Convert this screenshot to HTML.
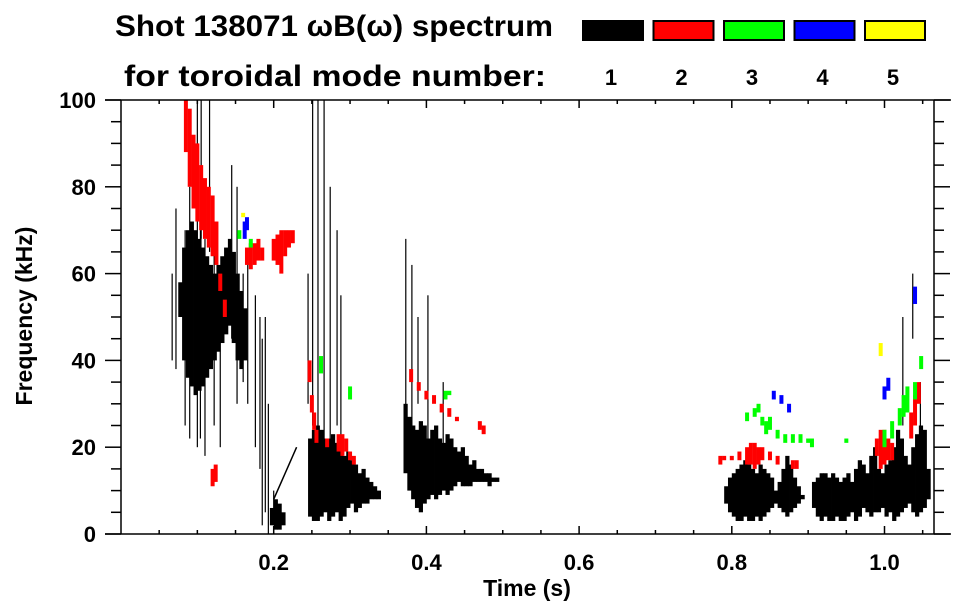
<!DOCTYPE html>
<html><head><meta charset="utf-8"><style>
html,body{margin:0;padding:0;background:#fff;}
svg{display:block;font-family:"Liberation Sans",Arial,sans-serif;font-weight:bold;}
</style></head><body>
<svg id="chart" width="963" height="615" viewBox="0 0 963 615" xmlns="http://www.w3.org/2000/svg">
<text x="334" y="36" font-size="30" text-anchor="middle" textLength="438" lengthAdjust="spacingAndGlyphs">Shot 138071 ωB(ω) spectrum</text>
<text x="335" y="86" font-size="30" text-anchor="middle" textLength="422" lengthAdjust="spacingAndGlyphs">for toroidal mode number:</text>
<g id="legend"></g>
<g id="marks"></g>
<g id="axes"></g>
<text x="527" y="596" font-size="23" text-anchor="middle">Time (s)</text>
<text transform="translate(32,316) rotate(-90)" font-size="23" text-anchor="middle">Frequency (kHz)</text>
</svg>
<script>
// ---- data ----
const modeColors = ['#000000','#ff0000','#00ff00','#0000ff','#ffff00'];
const modeLabels = ['1','2','3','4','5'];
const xTicks = [0.2,0.4,0.6,0.8,1.0];
const xTickLabels = ['0.2','0.4','0.6','0.8','1.0'];
const yTicks = [0,20,40,60,80,100];
const yTickLabels = ['0','20','40','60','80','100'];

// dense black (n=1) blobs: start time, step, high/low freq envelopes
const blob1Start = 0.075, blob1Hi = [58,66,70,72,70,68,66,64,62,60,62,64,66,68,65,60,56,52], blob1Lo = [50,40,36,34,32,33,34,36,38,40,42,44,46,48,44,40,38,40];
const blob2Start = 0.245, blob2Hi = [22,24,25,24,22,22,23,21,20,18,19,17,16,14,15,13,12,11,10], blob2Lo = [4,3,3,4,5,3,4,5,3,4,6,7,5,6,7,7,8,8,8];
const blob3Start = 0.370, blob3Hi = [30,27,25,24,26,25,22,24,25,22,21,23,22,20,19,20,18,16,17,15,15,14,14,13,13], blob3Lo = [14,10,8,6,5,7,8,9,8,9,10,9,10,11,12,11,11,11,12,12,12,12,11,12,12];
const blob4Start = 0.790, blob4Hi = [11,13,14,15,16,17,16,15,14,16,15,14,13,10,12,15,18,16,13,11,9], blob4Lo = [7,5,4,3,3,4,3,3,4,3,4,5,6,7,6,5,4,5,6,7,8];
const blob5Start = 0.905, blob5Hi = [12,13,14,14,13,14,13,12,13,14,12,15,17,16,14,18,20,15,14,16,17,20,24,22,18,16,20,23,25,24,15], blob5Lo = [6,4,3,4,3,3,4,3,3,4,5,3,4,6,5,4,5,5,6,4,5,3,4,5,6,7,5,4,5,6,8];
const blob6Start = 0.195, blob6Hi = [6,8,7,5], blob6Lo = [2,1,1,2];
const blobStep = 0.005;

// thin black streaks (time, low, high)
const lineT  = [0.067,0.072,0.084,0.090,0.100,0.104,0.110,0.116,0.122,0.130,0.145,0.152,0.160,0.166,0.176,0.182,0.185,0.189,0.193,0.245,0.251,0.258,0.266,0.274,0.283,0.288,0.373,0.381,0.389,0.402,0.422,1.024,1.037,1.047,0.200,0.105];
const lineLo = [40,38,25,22,20,22,18,65,25,20,45,30,35,30,20,15,2,5,0,30,25,20,20,20,25,15,25,20,30,20,20,25,45,20,3,68];
const lineHi = [60,75,70,80,100,70,68,100,65,60,85,80,60,65,55,50,45,50,30,60,100,100,100,80,70,55,68,62,50,55,35,50,60,35,10,100];

// diagonal streak near t=0.2
const diagT = [0.200,0.205,0.210,0.215,0.220,0.225,0.230];
const diagF = [8,10,12,14,16,18,20];

// colored (n>=2) patches: time, low, high, mode index
const patchT = [0.085,0.090,0.095,0.100,0.105,0.110,0.115,0.120,0.125,0.130,0.136,0.165,0.170,0.175,0.180,0.185,0.200,0.205,0.210,0.215,0.220,0.225,0.120,0.124,0.247,0.250,0.253,0.256,0.270,0.285,0.290,0.295,0.300,0.305,0.380,0.390,0.400,0.410,0.420,0.430,0.440,0.470,0.475,0.785,0.790,0.800,0.810,0.820,0.825,0.830,0.835,0.840,0.850,0.860,0.880,0.885,0.990,0.995,1.000,1.005,1.010,1.035,1.040,1.045,
  0.155,0.170,0.262,0.300,0.425,0.430,0.820,0.830,0.835,0.840,0.845,0.850,0.860,0.870,0.880,0.890,0.900,0.905,0.950,1.000,1.010,1.020,1.025,1.030,1.040,1.048,
  0.162,0.165,0.855,0.865,0.875,1.000,1.005,1.040,
  0.160,0.995];
const patchLo = [88,80,75,72,70,68,66,64,62,56,50,62,61,62,63,63,63,62,60,64,66,67,11,12,35,28,24,21,20,19,18,19,17,16,35,33,31,30,28,27,26,24,23,16,17,17,17,16,16,15,16,17,17,16,15,15,18,15,16,17,17,22,25,30,
  68,66,37,31,31,32,26,27,28,25,23,24,22,21,21,21,21,20,21,20,22,25,27,28,31,38,
  68,70,31,30,28,31,33,53,
  73,41];
const patchHi = [100,98,92,90,85,82,80,78,72,60,54,66,67,67,68,66,68,69,70,70,70,70,15,16,40,32,28,24,22,23,23,22,19,18,38,35,33,32,30,29,27,26,25,18,18,18,19,20,21,21,20,20,19,18,17,17,22,24,24,22,21,28,32,35,
  70,68,41,34,33,33,28,29,30,27,26,27,24,23,23,23,22,22,22,24,26,29,32,34,35,41,
  72,73,33,32,30,34,36,57,
  74,44];
const patchMode = [1,1,1,1,1,1,1,1,1,1,1,1,1,1,1,1,1,1,1,1,1,1,1,1,1,1,1,1,1,1,1,1,1,1,1,1,1,1,1,1,1,1,1,1,1,1,1,1,1,1,1,1,1,1,1,1,1,1,1,1,1,1,1,1,
  2,2,2,2,2,2,2,2,2,2,2,2,2,2,2,2,2,2,2,2,2,2,2,2,2,2,
  3,3,3,3,3,3,3,3,
  4,4];

// ---- axes functions ----
const X0=121, X1=934, Y0=534, Y1=100, TMAX=(934-121)/763.5;
const xs = t => X0 + t*763.5;
const ys = f => Y0 - f*(Y0-Y1)/100;
const NS='http://www.w3.org/2000/svg';
function mk(tag, parent){const e=document.createElementNS(NS,tag);parent.appendChild(e);return e;}
const marks=document.getElementById('marks'), axes=document.getElementById('axes'), legend=document.getElementById('legend');

function drawBlob(start, hi, lo, name){
  for(let i=0;i<hi.length;i++){
    const t=start+i*blobStep;
    const r=mk('rect',marks);
    
    
    r.setAttribute('x', xs(t)); r.setAttribute('width', xs(t+blobStep)-xs(t)+0.4);
    r.setAttribute('y', ys(hi[i])); r.setAttribute('height', ys(lo[i])-ys(hi[i]));
    r.setAttribute('fill', modeColors[0]);
  }
}
drawBlob(blob1Start,blob1Hi,blob1Lo,'mode1-blob-early');
drawBlob(blob2Start,blob2Hi,blob2Lo,'mode1-blob-025');
drawBlob(blob3Start,blob3Hi,blob3Lo,'mode1-blob-040');
drawBlob(blob4Start,blob4Hi,blob4Lo,'mode1-blob-085');
drawBlob(blob5Start,blob5Hi,blob5Lo,'mode1-blob-100');
drawBlob(blob6Start,blob6Hi,blob6Lo,'mode1-blob-020');

for(let i=0;i<lineT.length;i++){
  const r=mk('rect',marks);
  
  
  r.setAttribute('x', xs(lineT[i])-0.6); r.setAttribute('width', 1.2);
  r.setAttribute('y', ys(lineHi[i])); r.setAttribute('height', ys(lineLo[i])-ys(lineHi[i]));
  r.setAttribute('fill', '#000');
}
const dl=mk('polyline',marks);


dl.setAttribute('points', diagT.map((t,i)=>xs(t)+','+ys(diagF[i])).join(' '));
dl.setAttribute('fill','none'); dl.setAttribute('stroke','#000'); dl.setAttribute('stroke-width','1.5');

for(let i=0;i<patchT.length;i++){
  const r=mk('rect',marks);
  
  
  r.setAttribute('x', xs(patchT[i])-2); r.setAttribute('width', 4);
  r.setAttribute('y', ys(patchHi[i])); r.setAttribute('height', Math.max(1.5, ys(patchLo[i])-ys(patchHi[i])));
  r.setAttribute('fill', modeColors[patchMode[i]]);
}

// frame
function line(x1,y1,x2,y2,name){
  const l=mk('line',axes);
  
  
  l.setAttribute('x1',x1);l.setAttribute('y1',y1);l.setAttribute('x2',x2);l.setAttribute('y2',y2);
  l.setAttribute('stroke','#000');l.setAttribute('stroke-width','1.5');
}
line(105,Y0,951,Y0,'x-axis-line');
line(105,Y1,951,Y1,'top-axis-line');
line(X0,Y1,X0,Y0,'y-axis-line');
line(X1,Y1,X1,Y0,'right-axis-line');
for(let t=0.05;t<TMAX;t+=0.05){
  const major=Math.abs(t/0.2-Math.round(t/0.2))<1e-6;
  const len=major?8:4;
  line(xs(t),Y0,xs(t),Y0-len,'x-tick');
  line(xs(t),Y1,xs(t),Y1+len,'top-tick');
}
for(let f=0;f<=100;f+=5){
  const major=f%20===0;
  line(X0,ys(f),X0-(major?16:10),ys(f),'y-tick');
  line(X1,ys(f),X1+(major?16:10),ys(f),'right-y-tick');
}
xTicks.forEach((t,i)=>{
  const tx=mk('text',axes);
  
  
  tx.setAttribute('x',xs(t));tx.setAttribute('y',570);tx.setAttribute('font-size','22');tx.setAttribute('text-anchor','middle');
  tx.textContent=xTickLabels[i];
});
yTicks.forEach((f,i)=>{
  const tx=mk('text',axes);
  
  
  tx.setAttribute('x',96);tx.setAttribute('y',ys(f)+8);tx.setAttribute('font-size','22');tx.setAttribute('text-anchor','end');
  tx.textContent=yTickLabels[i];
});
// legend
modeColors.forEach((c,i)=>{
  const x=582+i*70.5;
  const r=mk('rect',legend);
  
  
  r.setAttribute('x',x+1);r.setAttribute('y',21);r.setAttribute('width',60);r.setAttribute('height',19);
  r.setAttribute('fill',c);r.setAttribute('stroke','#000');r.setAttribute('stroke-width','2');
  const tx=mk('text',legend);
  
  
  tx.setAttribute('x',x+29);tx.setAttribute('y',85);tx.setAttribute('font-size','22');tx.setAttribute('text-anchor','middle');
  tx.textContent=modeLabels[i];
});
</script>
</body></html>
